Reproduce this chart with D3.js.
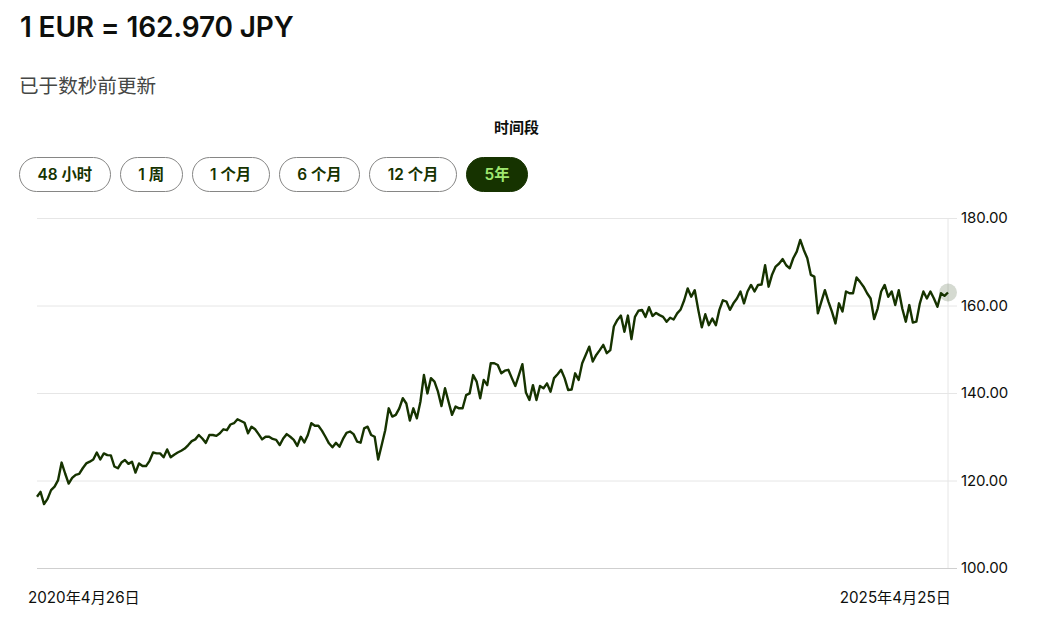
<!DOCTYPE html>
<html>
<head>
<meta charset="utf-8">
<script src="https://cdn.jsdelivr.net/npm/d3@7"></script>
<style>
  html, body { margin: 0; padding: 0; background: #fff; overflow: hidden; }
  body { width: 1038px; height: 617px; position: relative; font-family: Inter, "Noto Sans CJK SC", sans-serif; }
  .title { position: absolute; left: 20px; top: 10px; font-size: 28px; font-weight: 600; color: #0e0f0c; letter-spacing: -0.15px; }
  .updated { position: absolute; left: 19px; top: 70px; font-size: 19.6px; color: #454745; }
  .period { position: absolute; left: 0; width: 1033px; top: 116px; text-align: center; font-size: 15px; font-weight: 700; color: #0e0f0c; }
  .buttons { position: absolute; left: 19px; top: 157px; display: flex; gap: 9px; }
  .buttons div { height: 33px; line-height: 33px; padding: 0 17.5px; border: 1px solid #868685; border-radius: 18px; font-size: 15.4px; font-weight: 600; color: #163300; white-space: nowrap; }
  .buttons div.on { background: #163300; border-color: #163300; color: #9fe870; }
  svg { position: absolute; left: 0; top: 0; }
  .tick text, .date { font-family: Inter, "Noto Sans CJK SC", sans-serif; fill: #0e0f0c; }
</style>
</head>
<body>
<svg width="1038" height="617"></svg>
<script>
const titleText = "1 EUR = 162.970 JPY";
const updatedText = "已于数秒前更新";
const periodText = "时间段";
const periods = ["48 小时", "1 周", "1 个月", "6 个月", "12 个月", "5年"];
const activePeriod = "5年";
const yTicks = [100, 120, 140, 160, 180];
const dateLabels = ["2020年4月26日", "2025年4月25日"];

// weekly-ish readings, one array per year
const rates2020 = [116.3,117.4,114.6,115.8,117.8,118.6,120.1,124.1,121.6,119.3,120.6,121.3,121.5,122.8,123.9,124.3,124.8,126.4,124.8,126.2,125.8,125.75,123.2,122.8,124.1,124.7,123.8,124.3,121.8,123.9,123.3,123.3,124.5,126.4,126.2,126.2,125.3,127.1,125.3,125.9,126.4,126.8,127.3,128.1,129.0,129.4,130.4,129.6,128.6,130.4,130.4,130.2,130.8];
const rates2021 = [131.7,131.5,132.8,133.1,134.0,133.6,133.2,130.8,132.3,131.7,130.6,129.4,130.0,130.0,129.5,129.3,128.1,129.6,130.6,130.0,129.3,127.9,130.0,128.7,130.4,133.1,132.5,132.5,131.4,130.0,128.5,127.6,128.6,127.7,129.5,130.9,131.2,130.6,128.9,128.65,131.9,132.3,130.4,130.0,124.8,128.1,131.5,136.5,134.6,135.0,136.5,138.8];
const rates2022 = [137.6,133.7,136.5,134.2,138.0,144.1,139.9,143.4,142.6,140.3,137.0,141.1,138.0,135.0,136.9,136.5,136.5,139.5,139.9,144.1,142.6,138.8,143.0,141.8,146.8,146.8,146.4,144.5,145.1,145.3,143.4,141.6,144.1,146.6,140.1,138.4,141.8,138.4,141.6,141.1,142.2,140.3,143.4,144.3,145.3,143.4,140.7,140.8,144.5,143.0,146.8];
const rates2023 = [148.7,150.6,147.2,148.7,149.8,151.0,149.1,149.8,155.2,156.7,157.7,154.0,157.7,152.3,157.4,158.8,159.0,157.4,159.6,157.6,158.3,157.8,157.4,156.3,157.2,156.8,158.2,159.1,161.2,163.9,162.0,163.5,159.0,155.0,158.0,155.5,157.0,155.5,159.0,161.2,160.9,159.0,160.5,161.6,163.2,160.5,163.2,164.7,163.2,164.7];
const rates2024 = [164.8,169.2,164.3,167.1,168.9,169.6,170.6,169.2,168.5,170.8,172.3,175.0,172.7,170.8,167.0,166.6,158.2,160.9,163.5,160.9,158.6,155.9,160.5,158.6,163.2,162.8,162.8,166.4,165.4,164.3,162.8,161.6,156.9,159.3,163.2,164.7,162.0,163.2,160.1,163.5,159.3,156.3,160.1,156.1,156.3,160.5,163.2,161.6,163.2,161.6,159.7,162.8,162.2,162.97];
const rates = [].concat(rates2020, rates2021, rates2022, rates2023, rates2024);

d3.select("body").append("div").attr("class", "title").text(titleText);
d3.select("body").append("div").attr("class", "updated").text(updatedText);
d3.select("body").append("div").attr("class", "period").text(periodText);
d3.select("body").append("div").attr("class", "buttons")
  .selectAll("div").data(periods).enter().append("div")
  .classed("on", d => d === activePeriod)
  .text(d => d);

const svg = d3.select("svg");
const plot = { left: 37, right: 948, gridEnd: 957, top: 218, bottom: 568 };

const x = d3.scaleLinear().domain([0, rates.length - 1]).range([plot.left, plot.right]);
const y = d3.scaleLinear().domain([100, 180]).range([plot.bottom, plot.top]);

// gridlines + right axis labels
const yAxis = svg.append("g")
  .attr("transform", `translate(${plot.gridEnd},0)`)
  .call(d3.axisRight(y).tickValues(yTicks).tickSize(0).tickPadding(4).tickFormat(d3.format(".2f")));
yAxis.select(".domain").remove();
yAxis.selectAll("text").style("font-size", "15px").style("letter-spacing", "-0.1px");
yAxis.selectAll("line")
  .attr("x1", plot.left - plot.gridEnd)
  .attr("x2", 0)
  .attr("stroke", d => d === 100 ? "#cfcfcf" : "#e6e6e6");

svg.append("line")
  .attr("x1", plot.right).attr("x2", plot.right)
  .attr("y1", plot.top).attr("y2", plot.bottom)
  .attr("stroke", "#e6e6e6");

const line = d3.line().x((d, i) => x(i)).y(d => y(d));
svg.append("path")
  .datum(rates)
  .attr("d", line)
  .attr("fill", "none")
  .attr("stroke", "#163300")
  .attr("stroke-width", 2.4)
  .attr("stroke-linejoin", "round");

// last value marker
const lastIndex = rates.length - 1;
svg.append("circle")
  .attr("cx", x(lastIndex))
  .attr("cy", y(rates[lastIndex]))
  .attr("r", 9)
  .attr("fill", "#163300")
  .attr("fill-opacity", 0.18);

svg.selectAll(".date")
  .data(dateLabels)
  .enter()
  .append("text")
  .attr("class", "date")
  .attr("x", (d, i) => i === 0 ? 28 : 951)
  .attr("y", 603)
  .attr("text-anchor", (d, i) => i === 0 ? "start" : "end")
  .style("font-size", "15.2px")
  .text(d => d);
</script>
</body>
</html>
